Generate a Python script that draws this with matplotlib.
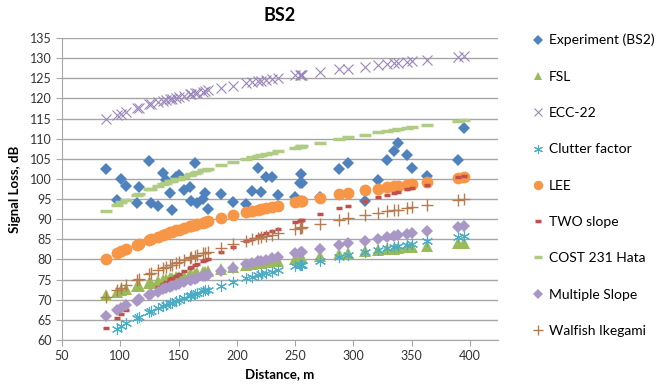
import numpy as np
import matplotlib
matplotlib.use("Agg")
import matplotlib.pyplot as plt

plt.rcParams['font.family'] = ['Lato', 'DejaVu Sans']

# distances (m) shared by measurement and all models
distance = [88, 97, 101, 105, 114, 116, 125, 126, 132, 137, 139, 143, 144, 148, 150,
            155, 160, 161, 164, 166, 171, 173, 175, 186, 197, 208, 213, 218, 221, 225,
            230, 235, 250, 254, 255, 256, 271, 288, 295, 310, 321, 329, 335, 338, 346,
            350, 363, 390, 395]

experiment = [102.5, 94.8, 99.9, 98.3, 94.1, 98.1, 104.5, 94.1, 93.3, 101.4, 99.7, 96.6,
              92.3, 100.6, 101.0, 97.3, 98.0, 94.4, 103.9, 94.0, 94.9, 96.6, 92.5, 96.2,
              94.3, 93.8, 97.1, 102.6, 96.8, 100.4, 100.4, 96.0, 95.6, 98.9, 101.2, 99.1,
              95.6, 102.5, 104.0, 94.4, 99.7, 104.6, 106.9, 108.9, 106.0, 102.6, 100.7,
              104.7, 112.6]

fsl = [71.1, 71.9, 72.3, 72.6, 73.4, 73.5, 74.2, 74.2, 74.6, 74.9, 75.1, 75.3, 75.4, 75.6,
       75.7, 76.0, 76.3, 76.3, 76.5, 76.6, 76.9, 77.0, 77.1, 77.6, 78.1, 78.6, 78.8, 79.0,
       79.1, 79.3, 79.5, 79.6, 80.2, 80.3, 80.3, 80.4, 80.9, 81.4, 81.6, 82.0, 82.3, 82.6,
       82.7, 82.8, 83.0, 83.1, 83.4, 84.0, 84.1]

ecc22 = [114.8, 115.8, 116.2, 116.6, 117.5, 117.7, 118.5, 118.5, 119.0, 119.4, 119.6,
         119.9, 119.9, 120.2, 120.4, 120.7, 121.0, 121.1, 121.3, 121.4, 121.7, 121.8,
         122.0, 122.6, 123.2, 123.8, 124.0, 124.3, 124.4, 124.6, 124.8, 125.0, 125.7,
         125.9, 125.9, 125.9, 126.5, 127.2, 127.4, 127.9, 128.3, 128.5, 128.7, 128.8,
         129.1, 129.2, 129.6, 130.3, 130.5]

clutter = [np.nan, 62.8, 63.5, 64.1, 65.4, 65.7, 67.0, 67.1, 67.9, 68.5, 68.7, 69.2, 69.3,
           69.7, 70.0, 70.5, 71.0, 71.1, 71.4, 71.6, 72.1, 72.3, 72.5, 73.5, 74.4, 75.3,
           75.7, 76.1, 76.3, 76.6, 77.0, 77.3, 78.3, 78.6, 78.7, 78.7, 79.7, 80.7, 81.1,
           81.9, 82.4, 82.9, 83.2, 83.3, 83.7, 83.9, 84.5, 85.6, 85.9]

lee = [80.2, 81.5, 82.1, 82.6, 83.7, 83.9, 84.9, 85.0, 85.7, 86.2, 86.4, 86.7, 86.8, 87.2,
       87.4, 87.8, 88.3, 88.3, 88.6, 88.7, 89.1, 89.3, 89.5, 90.3, 91.1, 91.8, 92.1, 92.4,
       92.6, 92.8, 93.1, 93.4, 94.3, 94.5, 94.5, 94.6, 95.3, 96.2, 96.5, 97.2, 97.6, 98.0,
       98.2, 98.3, 98.6, 98.8, 99.3, 100.2, 100.4]

two_slope = [62.9, 65.4, 66.4, 67.4, 69.4, 69.9, 71.7, 71.9, 73.1, 74.0, 74.4, 75.1, 75.3,
             76.0, 76.3, 77.2, 78.0, 78.1, 78.6, 78.9, 79.6, 79.9, 80.2, 81.8, 83.2, 84.6,
             85.2, 85.8, 86.1, 86.6, 87.1, 87.6, 89.2, 89.6, 89.7, 89.8, 91.2, 92.8, 93.4,
             94.6, 95.5, 96.1, 96.6, 96.8, 97.4, 97.7, 98.6, 100.4, 100.7]

cost231 = [92.1, 93.6, 94.2, 94.8, 96.0, 96.3, 97.4, 97.5, 98.2, 98.7, 99.0, 99.4, 99.5,
           99.9, 100.1, 100.6, 101.1, 101.2, 101.5, 101.6, 102.1, 102.3, 102.4, 103.4,
           104.2, 105.0, 105.4, 105.7, 105.9, 106.2, 106.5, 106.9, 107.8, 108.0, 108.1,
           108.2, 109.0, 109.9, 110.3, 111.0, 111.6, 111.9, 112.2, 112.3, 112.7, 112.8,
           113.4, 114.5, 114.7]

multi_slope = [66.0, 67.4, 68.0, 68.6, 69.8, 70.1, 71.2, 71.3, 72.0, 72.6, 72.8, 73.2, 73.3,
               73.7, 73.9, 74.4, 74.9, 75.0, 75.2, 75.4, 75.9, 76.0, 76.2, 77.1, 78.0, 78.8,
               79.1, 79.5, 79.7, 79.9, 80.3, 80.6, 81.5, 81.7, 81.8, 81.9, 82.7, 83.6, 84.0,
               84.7, 85.2, 85.6, 85.9, 86.0, 86.3, 86.5, 87.0, 88.1, 88.3]

walfish = [70.8, 72.4, 73.0, 73.6, 75.0, 75.2, 76.4, 76.6, 77.3, 77.9, 78.2, 78.6, 78.7,
           79.2, 79.4, 79.9, 80.4, 80.5, 80.8, 81.0, 81.5, 81.7, 81.8, 82.8, 83.8, 84.6,
           85.0, 85.4, 85.6, 85.9, 86.2, 86.6, 87.6, 87.8, 87.9, 88.0, 88.9, 89.9, 90.2,
           91.0, 91.6, 92.0, 92.3, 92.4, 92.8, 93.0, 93.6, 94.7, 94.9]

fig = plt.figure(figsize=(6.56, 3.92), dpi=100)
ax = fig.add_axes([62 / 656, 1 - 340 / 392, 436 / 656, 302 / 392])

ax.plot(distance, experiment, 'D', color='#4F81BD', ms=6.5, mew=0, label='Experiment (BS2)')
ax.plot(distance, fsl, '^', color='#9BBB59', ms=8, mew=0, label='FSL')
ax.plot(distance, ecc22, 'x', color='#9A86BA', ms=7.5, mew=0.8, label='ECC-22')
ax.plot(distance, clutter, '*', color='#4BACC6', ms=8, mew=0.8, fillstyle='none',
        marker=(6, 2, 0), label='Clutter factor')
ax.plot(distance, lee, 'o', color='#F79646', ms=8.5, mew=0, label='LEE')
ax.plot(distance, two_slope, '_', color='#C0504D', ms=5, mew=2.5, label='TWO slope')
ax.plot(distance, cost231, '_', color='#AFCB84', ms=8, mew=2.5, label='COST 231 Hata')
ax.plot(distance, multi_slope, 'D', color='#A997C6', ms=6.5, mew=0, label='Multiple Slope')
ax.plot(distance, walfish, '+', color='#B57A4E', ms=9, mew=1, label='Walfish Ikegami')

ax.set_xlim(50, 424)
ax.set_ylim(60, 135)
ax.set_xticks(np.arange(50, 401, 50))
ax.set_yticks(np.arange(60, 136, 5))
ax.yaxis.grid(True, color='#A6A6A6', lw=1)
ax.set_axisbelow(True)
for s in ['top', 'right']:
    ax.spines[s].set_visible(False)
for s in ['left', 'bottom']:
    ax.spines[s].set_color('#A6A6A6')
ax.tick_params(colors='#A6A6A6', labelcolor='#333333', labelsize=9, length=4)

ax.set_title('BS2', fontsize=13, fontweight='bold', pad=12)
ax.set_xlabel('Distance, m', fontsize=9.5, fontweight='bold', labelpad=4)
ax.set_ylabel('Signal Loss, dB', fontsize=9.5, fontweight='bold', labelpad=6)

fig.legend(loc='upper left', bbox_to_anchor=(525 / 656, 1 - 27 / 392), frameon=False,
           fontsize=10, labelspacing=1.75, handlelength=0.8, handletextpad=0.4,
           borderpad=0, markerscale=0.8)

fig.savefig('out.png', dpi=100)
